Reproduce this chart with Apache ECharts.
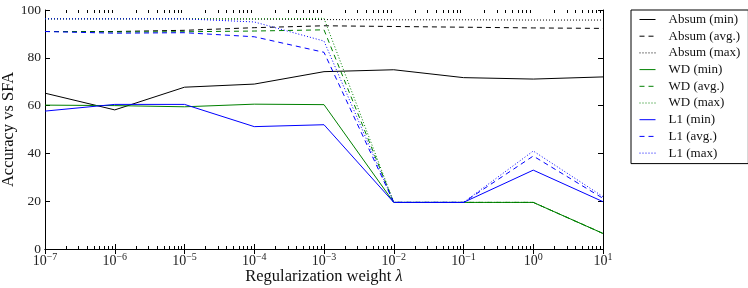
<!DOCTYPE html>
<html>
<head>
<meta charset="utf-8">
<script src="https://cdn.jsdelivr.net/npm/echarts@6/dist/echarts.min.js"></script>
<style>html,body{margin:0;padding:0;background:#fff;}#c{width:748px;height:288px;}</style>
</head>
<body>
<div id="c"></div>
<script>
const lambdas = [1e-7, 1e-6, 1e-5, 1e-4, 1e-3, 1e-2, 1e-1, 1e0, 1e1];
const absumMin = [65.2, 58.2, 67.7, 69.0, 74.2, 75.0, 71.7, 71.1, 72.0];
const absumAvg = [91.0, 91.0, 91.5, 92.6, 93.4, 93.1, 92.8, 92.5, 92.3];
const absumMax = [96.3, 96.3, 96.3, 96.2, 96.0, 95.9, 95.9, 95.8, 95.8];
const wdMin = [60.2, 60.0, 59.5, 60.6, 60.4, 19.5, 19.5, 19.5, 6.5];
const wdAvg = [91.0, 90.8, 90.9, 91.2, 91.7, 19.5, 19.5, 19.5, 6.5];
const wdMax = [96.3, 96.3, 96.3, 96.3, 96.5, 19.5, 19.5, 19.5, 6.5];
const l1Min = [57.7, 60.5, 60.5, 51.2, 52.0, 19.5, 19.5, 33.0, 19.8];
const l1Avg = [91.0, 90.3, 90.5, 88.8, 82.3, 19.5, 19.5, 38.9, 21.2];
const l1Max = [96.3, 96.3, 96.3, 95.0, 87.0, 19.5, 19.5, 41.0, 21.9];
const seriesNames = ['Absum (min)', 'Absum (avg.)', 'Absum (max)', 'WD (min)', 'WD (avg.)', 'WD (max)', 'L1 (min)', 'L1 (avg.)', 'L1 (max)'];
const yTicks = [0, 20, 40, 60, 80, 100];

const FONT = '"Liberation Serif", "DejaVu Serif", serif';
const colors = {k: '#000000', g: '#008000', b: '#0000ff'};
const styles = {
  min: {type: 'solid'},
  avg: {type: [5, 4]},
  max: {type: [1, 2]}
};
const defs = [
  [absumMin, 'k', 'min'], [absumAvg, 'k', 'avg'], [absumMax, 'k', 'max'],
  [wdMin, 'g', 'min'], [wdAvg, 'g', 'avg'], [wdMax, 'g', 'max'],
  [l1Min, 'b', 'min'], [l1Avg, 'b', 'avg'], [l1Max, 'b', 'max']
];

// minor tick positions of the log axis (2..9 x 10^k)
const minorTicks = [];
for (let e = -7; e < 1; e++) for (let m = 2; m <= 9; m++) minorTicks.push([m * Math.pow(10, e), 0]);

const series = defs.map((d, i) => ({
  name: seriesNames[i],
  type: 'line',
  data: lambdas.map((x, j) => [x, d[0][j]]),
  symbol: 'none',
  silent: true,
  animation: false,
  color: colors[d[1]],
  lineStyle: {color: colors[d[1]], width: 1, type: styles[d[2]].type}
}));

series.push({
  type: 'custom',
  silent: true,
  animation: false,
  clip: false,
  data: minorTicks,
  renderItem: function (params, api) {
    const b = api.coord([api.value(0), yTicks[0]]);
    const t = api.coord([api.value(0), yTicks[yTicks.length - 1]]);
    const x = Math.round(b[0]) + 0.5;
    const st = {stroke: '#000', lineWidth: 1};
    return {type: 'group', children: [
      {type: 'line', shape: {x1: x, y1: b[1], x2: x, y2: b[1] - 3}, style: st},
      {type: 'line', shape: {x1: x, y1: t[1], x2: x, y2: t[1] + 3}, style: st}
    ]};
  }
});

const xAxisBase = {
  type: 'log', logBase: 10, min: 1e-7, max: 10, interval: 1,
  axisLine: {show: true, lineStyle: {color: '#000', width: 1}},
  axisTick: {show: true, inside: true, length: 5, lineStyle: {color: '#000'}},
  splitLine: {show: false},
  minorTick: {show: false}
};

const chart = echarts.init(document.getElementById('c'), null, {renderer: 'canvas'});
chart.setOption({
  animation: false,
  backgroundColor: '#fff',
  grid: {left: 45, top: 10, right: 145, bottom: 39, containLabel: false, outerBoundsMode: 'none'},
  xAxis: [
    Object.assign({}, xAxisBase, {
      position: 'bottom',
      name: '{n|Regularization weight }{i|λ}',
      nameLocation: 'middle',
      nameGap: 19,
      nameMoveOverlap: false,
      nameTextStyle: {
        rich: {
          n: {fontFamily: FONT, fontSize: 16.5, color: '#111'},
          i: {fontFamily: FONT, fontSize: 16.5, fontStyle: 'italic', color: '#111'}
        }
      },
      axisLabel: {
        margin: 3,
        formatter: function (v) {
          const e = Math.round(Math.log10(v));
          return '{b|10}{s|' + String(e).replace('-', '−') + '}';
        },
        rich: {
          b: {fontFamily: FONT, fontSize: 14, color: '#222', lineHeight: 16, verticalAlign: 'bottom'},
          s: {fontFamily: FONT, fontSize: 10, color: '#222', lineHeight: 10, verticalAlign: 'top'}
        }
      }
    }),
    Object.assign({}, xAxisBase, {position: 'top', axisLabel: {show: false}})
  ],
  yAxis: [
    {
      type: 'value', min: 0, max: 100, interval: 20, position: 'left',
      name: 'Accuracy vs SFA',
      nameLocation: 'middle',
      nameGap: 36,
      nameMoveOverlap: false,
      nameTextStyle: {fontFamily: FONT, fontSize: 16.5, color: '#111', verticalAlign: 'middle'},
      axisLine: {show: true, lineStyle: {color: '#000', width: 1}},
      axisTick: {show: true, inside: true, length: 5, lineStyle: {color: '#000'}},
      splitLine: {show: false},
      axisLabel: {fontFamily: FONT, fontSize: 13.5, color: '#222', margin: 4}
    },
    {
      type: 'value', min: 0, max: 100, interval: 20, position: 'right',
      axisLine: {show: true, lineStyle: {color: '#000', width: 1}},
      axisTick: {show: true, inside: true, length: 5, lineStyle: {color: '#000'}},
      splitLine: {show: false},
      axisLabel: {show: false}
    }
  ],
  legend: {
    data: seriesNames,
    orient: 'vertical',
    left: 631,
    top: 10,
    padding: [3, 8, 4, 8],
    itemWidth: 16,
    itemHeight: 12,
    itemGap: 3.7,
    borderColor: '#000',
    borderWidth: 1,
    borderRadius: 0,
    backgroundColor: '#fff',
    itemStyle: {opacity: 0},
    lineStyle: {width: 1},
    textStyle: {fontFamily: FONT, fontSize: 13, color: '#111', padding: [0, 0, 0, 8]}
  },
  series: series
});
</script>
</body>
</html>
